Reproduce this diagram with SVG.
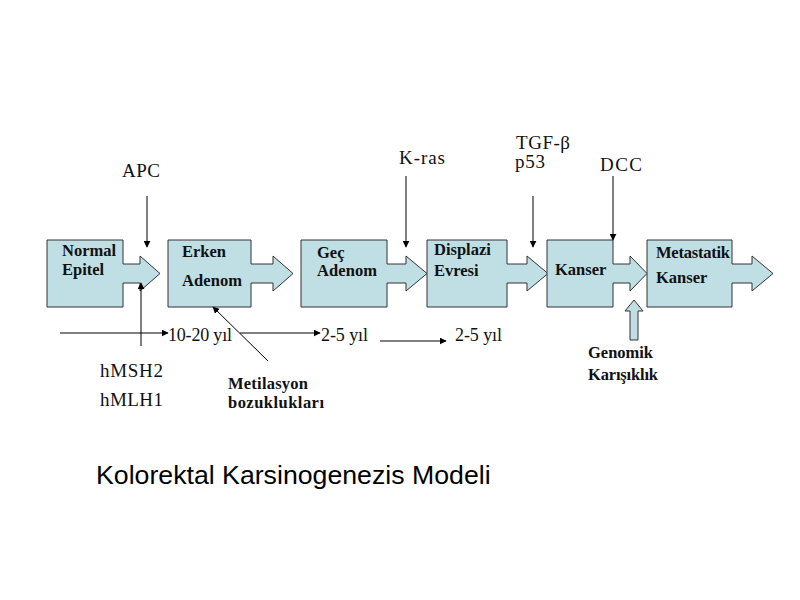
<svg xmlns="http://www.w3.org/2000/svg" width="800" height="600" viewBox="0 0 800 600">
<defs>
<marker id="ah" viewBox="0 0 10 10" refX="9" refY="5" markerWidth="7" markerHeight="7" markerUnits="userSpaceOnUse" orient="auto">
<path d="M0,0 L10,5 L0,10 Z" fill="#000"/>
</marker>
</defs>
<style>
.box{fill:#C0DFE4;stroke:#333;stroke-width:1}
.bl{font-family:"Liberation Serif","Times New Roman",serif;font-size:16.5px;font-weight:bold;fill:#111}
.lb{font-family:"Liberation Serif","Times New Roman",serif;font-size:19px;fill:#111}
.yl{font-family:"Liberation Serif","Times New Roman",serif;font-size:18px;fill:#111}
.ln{stroke:#000;stroke-width:1;fill:none;marker-end:url(#ah)}
.title{font-family:"Liberation Sans",Arial,sans-serif;font-size:26.7px;fill:#000}
</style>
<rect width="800" height="600" fill="#fff"/>

<g id="normal-epitel">
<path class="box" d="M47,240 H123 V264 H140 V256 L160,273.5 L140,291 V283 H123 V307 H47 Z"/>
<text class="bl" x="62" y="256">Normal</text>
<text class="bl" x="62" y="275">Epitel</text>
</g>
<g id="erken-adenom">
<path class="box" d="M168,240 H251 V264 H273 V256 L293,273.5 L273,291 V283 H251 V307 H168 Z"/>
<text class="bl" x="182" y="257">Erken</text>
<text class="bl" x="182" y="286" textLength="60">Adenom</text>
</g>
<g id="gec-adenom">
<path class="box" d="M301,240 H387 V264 H406 V256 L427,273.5 L406,291 V283 H387 V307 H301 Z"/>
<text class="bl" x="317" y="258">Geç</text>
<text class="bl" x="317" y="276" textLength="60">Adenom</text>
</g>
<g id="displazi-evresi">
<path class="box" d="M427,240 H507 V264 H527 V256 L548,273.5 L527,291 V283 H507 V307 H427 Z"/>
<text class="bl" x="434" y="255">Displazi</text>
<text class="bl" x="434" y="276">Evresi</text>
</g>
<g id="kanser">
<path class="box" d="M547,240 H613 V264 H630 V256 L647,273.5 L630,291 V283 H613 V307 H547 Z"/>
<text class="bl" x="555" y="275">Kanser</text>
</g>
<g id="metastatik-kanser">
<path class="box" d="M647,240 H732 V264 H752 V256 L773,273.5 L752,291 V283 H732 V307 H647 Z"/>
<text class="bl" x="656" y="258" textLength="74">Metastatik</text>
<text class="bl" x="656" y="283">Kanser</text>
</g>

<g id="labels">
<text class="lb" x="122" y="177" textLength="38">APC</text>
<text class="lb" x="399" y="164" textLength="46">K-ras</text>
<text class="lb" x="516" y="149" textLength="54">TGF-β</text>
<text class="lb" x="515" y="168" textLength="30">p53</text>
<text class="lb" x="600" y="171" textLength="42">DCC</text>
<text class="lb" x="100" y="377" textLength="63">hMSH2</text>
<text class="lb" x="100" y="406" textLength="63">hMLH1</text>
<text class="yl" x="168" y="341" textLength="64">10-20 yıl</text>
<text class="yl" x="321" y="341" textLength="47">2-5 yıl</text>
<text class="yl" x="455" y="341" textLength="47">2-5 yıl</text>
<text class="bl" x="228" y="389" textLength="80">Metilasyon</text>
<text class="bl" x="228" y="408" textLength="96">bozuklukları</text>
<text class="bl" x="588" y="358" textLength="65">Genomik</text>
<text class="bl" x="588" y="380" textLength="70">Karışıklık</text>
</g>

<g id="connectors">
<line class="ln" x1="147" y1="196" x2="147" y2="247"/>
<line class="ln" x1="406" y1="176" x2="406" y2="247"/>
<line class="ln" x1="533" y1="196" x2="533" y2="247"/>
<line class="ln" x1="613" y1="176" x2="613" y2="240"/>
<line class="ln" x1="141" y1="346" x2="141" y2="283"/>
<line class="ln" x1="60" y1="333" x2="168" y2="333"/>
<line class="ln" x1="240" y1="333" x2="320" y2="333"/>
<line class="ln" x1="380" y1="341" x2="446" y2="341"/>
<line class="ln" x1="268" y1="361" x2="213" y2="307"/>
<path class="box" d="M630,340 V311 H625 L634,300 L643,311 H638 V340 Z"/>
</g>

<text class="title" x="96" y="484">Kolorektal Karsinogenezis Modeli</text>
</svg>
